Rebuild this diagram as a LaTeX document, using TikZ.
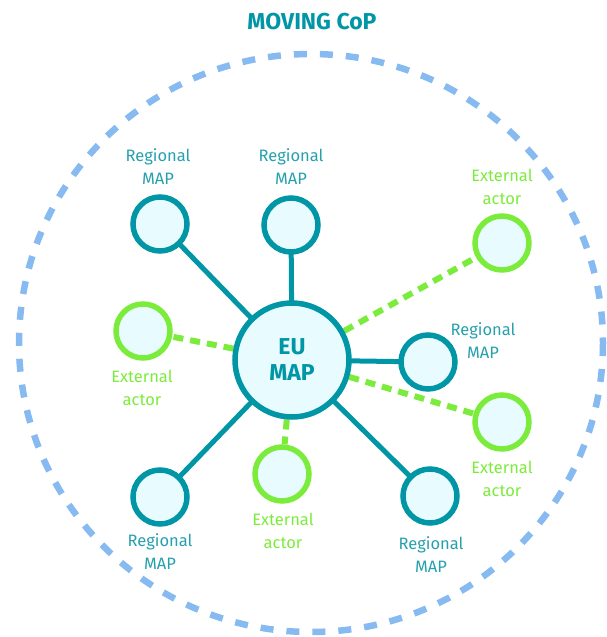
\documentclass[tikz,border=0pt]{standalone}
\usepackage{fontspec}
\setmainfont{Fira Sans}
\usetikzlibrary{backgrounds}
\definecolor{teal1}{RGB}{0,150,166}
\definecolor{teallab}{RGB}{38,160,174}
\definecolor{lime1}{RGB}{124,236,60}
\definecolor{ring}{RGB}{134,186,240}
\definecolor{pale}{RGB}{232,252,255}
\tikzset{
  regional/.style={circle,draw=teal1,line width=5.5pt,fill=pale,minimum size=54pt,inner sep=0pt},
  external/.style={circle,draw=lime1,line width=5.5pt,fill=pale,minimum size=54pt,inner sep=0pt},
  hub/.style={circle,draw=teal1,line width=5.5pt,fill=pale,minimum size=114pt,inner sep=0pt,
    font=\fontsize{23}{26}\selectfont\bfseries,text=teal1,align=center},
  reglab/.style={font=\fontsize{16.5}{23}\selectfont,text=teallab,align=center,inner sep=0pt},
  extlab/.style={font=\fontsize{16.5}{23}\selectfont,text=lime1,align=center,inner sep=0pt},
  solidlink/.style={draw=teal1,line width=5pt},
  dashlink/.style={draw=lime1,line width=6pt,dash pattern=on 10pt off 7pt},
}
\begin{document}
\begin{tikzpicture}[x=1pt,y=-1pt]
\useasboundingbox (0,0) rectangle (607,637);

% title
\node[font=\fontsize{23}{26}\selectfont\bfseries,text=teal1] (title) at (312,22) {MOVING CoP};

% central hub
\node[hub] (eu) at (292,360) {EU\\MAP};

% regional MAP nodes
\node[regional] (r1) at (160,224) {};
\node[regional] (r2) at (291,225) {};
\node[regional] (r3) at (428,362) {};
\node[regional] (r4) at (160,497) {};
\node[regional] (r5) at (430,496) {};

% external actors
\node[external] (e1) at (502,243) {};
\node[external] (e2) at (143,331) {};
\node[external] (e3) at (502,422) {};
\node[external] (e4) at (282,474) {};

% labels
\node[reglab] (l1) at (158,167) {Regional\\MAP};
\node[reglab] (l2) at (291,167) {Regional\\MAP};
\node[reglab] (l3) at (483,341) {Regional\\MAP};
\node[reglab] (l4) at (160,552) {Regional\\MAP};
\node[reglab] (l5) at (431,555) {Regional\\MAP};
\node[extlab] (m1) at (502,187) {External\\actor};
\node[extlab] (m2) at (142,388) {External\\actor};
\node[extlab] (m3) at (502,479) {External\\actor};
\node[extlab] (m4) at (283,531) {External\\actor};

\begin{scope}[on background layer]
  % community boundary
  \draw[ring,line width=6.5pt,dash pattern=on 13pt off 13pt] (311,343) ellipse[x radius=292,y radius=289];
  % links
  \draw[solidlink] (eu.center) -- (r1.center);
  \draw[solidlink] (eu.center) -- (r2.center);
  \draw[solidlink] (eu.center) -- (r3.center);
  \draw[solidlink] (eu.center) -- (r4.center);
  \draw[solidlink] (eu.center) -- (r5.center);
  \draw[dashlink] (eu) -- (e1);
  \draw[dashlink] (eu) -- (e2);
  \draw[dashlink] (eu) -- (e3);
  \draw[dashlink] (eu) -- (e4);
\end{scope}
\end{tikzpicture}
\end{document}
